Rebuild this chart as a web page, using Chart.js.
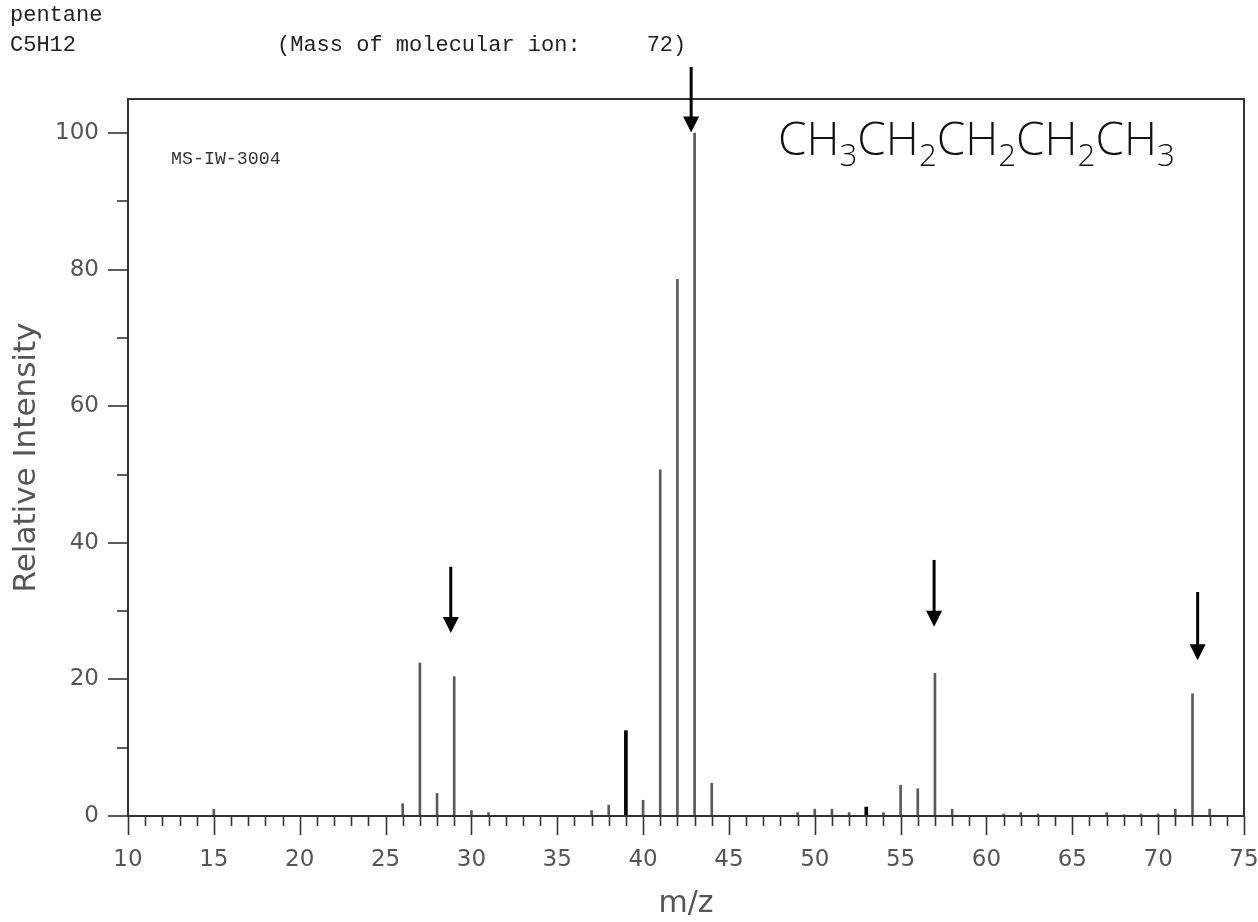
<!DOCTYPE html>
<html><head><meta charset="utf-8">
<script src="https://cdn.jsdelivr.net/npm/chart.js@4.4.1/dist/chart.umd.min.js"></script>
<style>html,body{margin:0;padding:0;background:#fff;overflow:hidden}</style>
</head><body>
<canvas id="c" width="1258" height="922" style="display:block;width:1258px;height:922px"></canvas>
<script>
// ---- data ----
const mzValues    = [15, 26, 27, 28, 29, 30, 31, 37, 38, 39, 40, 41, 42, 43, 44, 49, 50, 51, 52, 53, 54, 55, 56, 57, 58, 61, 62, 63, 67, 68, 69, 70, 71, 72, 73];
const intensities = [1.0, 1.8, 22.4, 3.3, 20.4, 0.8, 0.5, 0.8, 1.6, 12.5, 2.3, 50.7, 78.6, 100, 4.8, 0.5, 1.0, 1.0, 0.5, 1.3, 0.5, 4.5, 4.0, 20.9, 1.0, 0.3, 0.5, 0.3, 0.5, 0.2, 0.3, 0.3, 1.0, 17.9, 1.0];
const boldPeaks   = [39, 53];
const xLabelTicks = [10, 15, 20, 25, 30, 35, 40, 45, 50, 55, 60, 65, 70, 75];
const yLabelTicks = [0, 20, 40, 60, 80, 100];
const yMinorTicks = [10, 30, 50, 70, 90];
// annotation arrows (data units)
const arrowX   = [28.8, 42.8, 56.95, 72.3];
const arrowTop = [36.5, 109.7, 37.5, 32.8];
const arrowTip = [26.8, 100.1, 27.7, 22.8];
// texts
const nameText = 'pentane';
const formulaText = 'C5H12';
const massText = '(Mass of molecular ion:     72)';
const codeText = 'MS-IW-3004';
const structParts = [['CH','3'],['CH','2'],['CH','2'],['CH','2'],['CH','3']];

const annotate = {
  id: 'annotate',
  afterDraw(chart) {
    const {ctx, chartArea: a, scales: {x, y}} = chart;
    ctx.save();
    // frame
    ctx.strokeStyle = '#333';
    ctx.lineWidth = 2;
    ctx.strokeRect(a.left, a.top, a.right - a.left, a.bottom - a.top);
    // x ticks
    ctx.lineWidth = 1.6;
    for (let m = x.min; m <= x.max; m++) {
      const px = Math.round(x.getPixelForValue(m)) + 0.5;
      const len = xLabelTicks.includes(m) ? 19 : 10;
      ctx.beginPath(); ctx.moveTo(px, a.bottom); ctx.lineTo(px, a.bottom + len); ctx.stroke();
    }
    // y ticks
    [...yLabelTicks, ...yMinorTicks].forEach(v => {
      const py = Math.round(y.getPixelForValue(v));
      const len = yLabelTicks.includes(v) ? 20 : 11;
      ctx.beginPath(); ctx.moveTo(a.left - len, py); ctx.lineTo(a.left, py); ctx.stroke();
    });
    // arrows
    ctx.strokeStyle = '#000'; ctx.fillStyle = '#000'; ctx.lineWidth = 3;
    arrowX.forEach((xv, i) => {
      const px = x.getPixelForValue(xv);
      const pt = y.getPixelForValue(arrowTop[i]);
      const pb = y.getPixelForValue(arrowTip[i]);
      ctx.beginPath(); ctx.moveTo(px, pt); ctx.lineTo(px, pb - 14); ctx.stroke();
      ctx.beginPath(); ctx.moveTo(px - 8, pb - 16); ctx.lineTo(px + 8, pb - 16); ctx.lineTo(px, pb); ctx.closePath(); ctx.fill();
    });
    // header texts
    ctx.fillStyle = '#222';
    ctx.textBaseline = 'alphabetic'; ctx.textAlign = 'left';
    ctx.font = '22px "Liberation Mono", "DejaVu Sans Mono", monospace';
    ctx.fillText(nameText, 10, 21);
    ctx.fillText(formulaText, 10, 51);
    ctx.fillText(massText, 277, 51);
    ctx.fillStyle = '#333';
    ctx.font = '18.3px "Liberation Mono", "DejaVu Sans Mono", monospace';
    ctx.fillText(codeText, 171, 164);
    // structural formula
    ctx.fillStyle = '#111';
    const big = 44, small = 30;
    const fam = 'px "Open Sans", "Lato", sans-serif';
    let total = 0;
    structParts.forEach(([m, s]) => { ctx.font = '300 ' + big + fam; total += ctx.measureText(m).width; ctx.font = '300 ' + small + fam; total += ctx.measureText(s).width; });
    const k = 397 / total;
    let cx = 778; const base = 155;
    structParts.forEach(([m, s]) => {
      ctx.font = '300 ' + (big * k) + fam;
      ctx.fillText(m, cx, base); cx += ctx.measureText(m).width;
      ctx.font = '300 ' + (small * k) + fam;
      ctx.fillText(s, cx, base + 11); cx += ctx.measureText(s).width;
    });
    ctx.restore();
  }
};

const normalPoints = [], boldPoints = [];
mzValues.forEach((m, i) => (boldPeaks.includes(m) ? boldPoints : normalPoints).push({x: m, y: intensities[i]}));

new Chart(document.getElementById('c'), {
  type: 'bar',
  data: {
    datasets: [
      {data: normalPoints, backgroundColor: '#5a5a5a', barThickness: 2, grouped: false, borderWidth: 0},
      {data: boldPoints, backgroundColor: '#000', barThickness: 3, grouped: false, borderWidth: 0}
    ]
  },
  options: {
    responsive: false,
    animation: false,
    devicePixelRatio: 1,
    layout: {padding: {top: 99, right: 14, left: 0, bottom: 0}},
    plugins: {legend: {display: false}, tooltip: {enabled: false}},
    scales: {
      x: {
        type: 'linear', min: 10, max: 75, offset: false,
        grid: {display: false, drawTicks: false}, border: {display: false},
        afterBuildTicks: s => { s.ticks = xLabelTicks.map(v => ({value: v})); },
        afterFit: s => { s.height = 106; s.paddingLeft = 0; s.paddingRight = 0; },
        ticks: {padding: 30, color: '#555', font: {family: 'DejaVu Sans', size: 23}, maxRotation: 0, autoSkip: false},
        title: {display: true, text: 'm/z', color: '#555', font: {family: 'DejaVu Sans', size: 30}, padding: {top: 0, bottom: 0}}
      },
      y: {
        min: 0, max: 105,
        grid: {display: false, drawTicks: false}, border: {display: false},
        afterBuildTicks: s => { s.ticks = yLabelTicks.map(v => ({value: v})); },
        afterFit: s => { s.width = 128; s.paddingTop = 0; s.paddingBottom = 0; },
        ticks: {padding: 29, color: '#555', font: {family: 'DejaVu Sans', size: 23}},
        title: {display: true, text: 'Relative Intensity', color: '#555', font: {family: 'DejaVu Sans', size: 31}, padding: {top: 8, bottom: 0}}
      }
    }
  },
  plugins: [annotate]
});
</script>
</body></html>
